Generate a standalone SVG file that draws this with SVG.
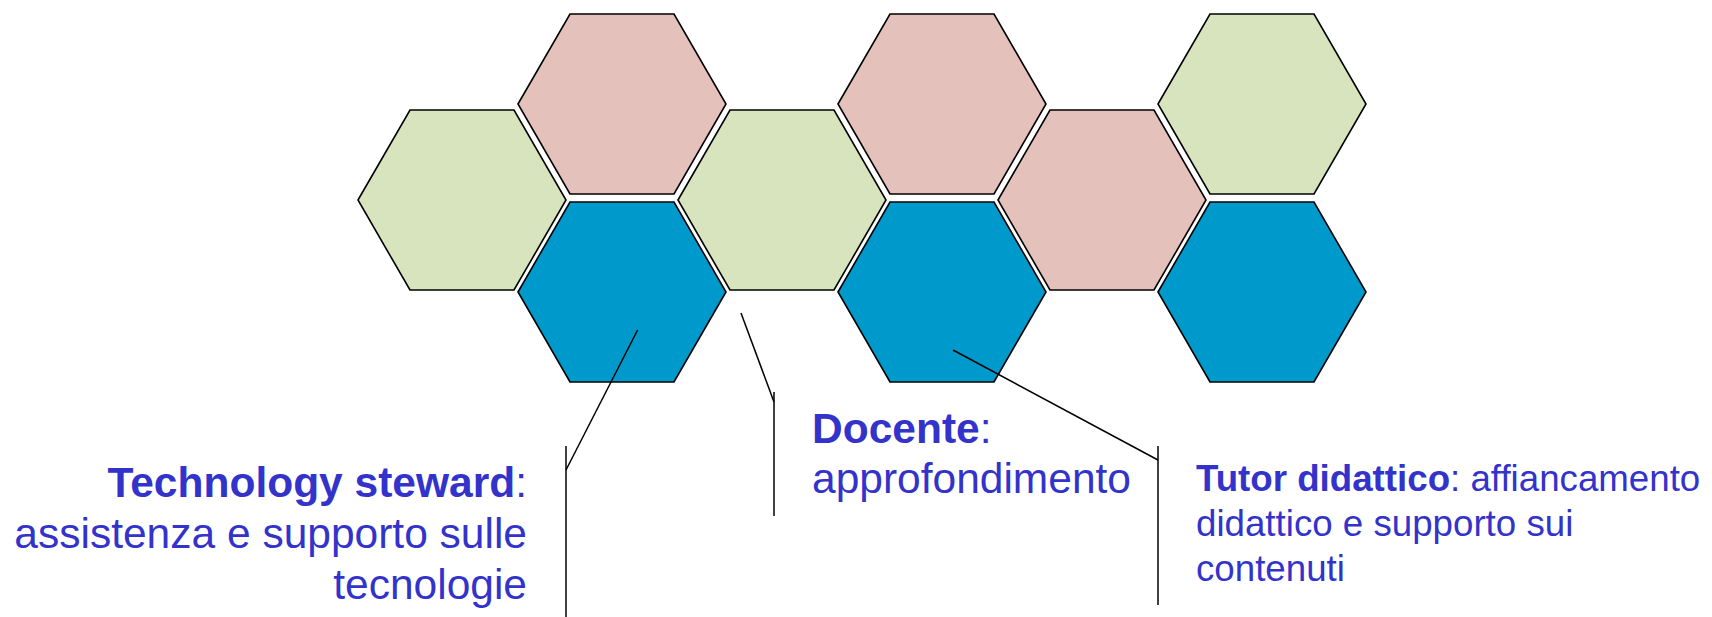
<svg xmlns="http://www.w3.org/2000/svg" width="1712" height="617" viewBox="0 0 1712 617">
<style>
.hex{stroke:#000;stroke-width:1.6;stroke-linejoin:miter}
.green{fill:#D7E4BD}
.pink{fill:#E4C2BB}
.blue{fill:#0099CC}
.conn{stroke:#000;stroke-width:1.5;fill:none}
.lbl{font-family:"Liberation Sans",Arial,sans-serif;fill:#3333CC}
.b{font-weight:bold}
</style>
<defs>
<polygon id="hexshape" points="-104,0 -52,-90 52,-90 104,0 52,90 -52,90"/>
</defs>
<g id="hex-green-1" transform="translate(462,200)"><use href="#hexshape" class="hex green"/></g>
<g id="hex-pink-1" transform="translate(622,104)"><use href="#hexshape" class="hex pink"/></g>
<g id="hex-blue-1" transform="translate(622,292)"><use href="#hexshape" class="hex blue"/></g>
<g id="hex-green-2" transform="translate(782,200)"><use href="#hexshape" class="hex green"/></g>
<g id="hex-pink-2" transform="translate(942,104)"><use href="#hexshape" class="hex pink"/></g>
<g id="hex-blue-2" transform="translate(942,292)"><use href="#hexshape" class="hex blue"/></g>
<g id="hex-pink-3" transform="translate(1102,200)"><use href="#hexshape" class="hex pink"/></g>
<g id="hex-green-3" transform="translate(1262,104)"><use href="#hexshape" class="hex green"/></g>
<g id="hex-blue-3" transform="translate(1262,292)"><use href="#hexshape" class="hex blue"/></g>
<g id="connectors">
<polyline class="conn" points="637.6,330 566,470"/>
<line class="conn" x1="566" y1="446" x2="566" y2="617"/>
<polyline class="conn" points="741,313 774,402"/>
<line class="conn" x1="774" y1="392" x2="774" y2="516"/>
<polyline class="conn" points="953,350 1158,460"/>
<line class="conn" x1="1158" y1="446" x2="1158" y2="605"/>
</g>
<g id="label-technology-steward" class="lbl" font-size="42.5" text-anchor="end">
<text x="527" y="497"><tspan class="b">Technology steward</tspan>:</text>
<text x="527" y="548">assistenza e supporto sulle</text>
<text x="527" y="599">tecnologie</text>
</g>
<g id="label-docente" class="lbl" font-size="42.5">
<text x="812" y="443"><tspan class="b">Docente</tspan>:</text>
<text x="812" y="493">approfondimento</text>
</g>
<g id="label-tutor" class="lbl" font-size="36.7">
<text x="1196" y="491"><tspan class="b">Tutor didattico</tspan>: affiancamento</text>
<text x="1196" y="536">didattico e supporto sui</text>
<text x="1196" y="581">contenuti</text>
</g>
</svg>
